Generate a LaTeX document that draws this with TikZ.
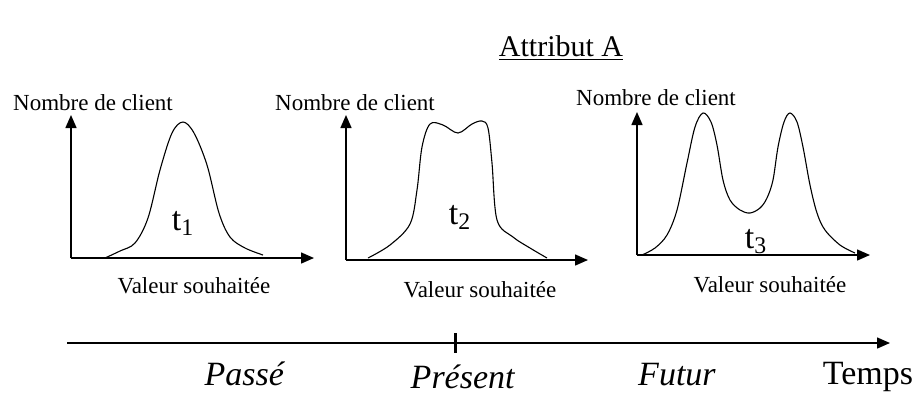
\documentclass[tikz,border=0pt]{standalone}
\usepackage{fontspec}
\setmainfont{Liberation Serif}
\usetikzlibrary{arrows.meta, positioning}

\tikzset{
  axe/.style={line width=0.75pt, -{Triangle[length=6.5pt,width=5.5pt]}},
  courbe/.style={line width=0.55pt},
  petit/.style={font=\fontsize{11.5}{13}\selectfont, inner sep=0pt, anchor=base},
  grand/.style={font=\fontsize{17}{20}\selectfont, inner sep=0pt, anchor=base},
}

\begin{document}
\begin{tikzpicture}[x=0.5pt, y=-0.5pt]
\useasboundingbox (0,0) rectangle (918,393);

\node (Titre) [grand, font=\fontsize{15}{18}\selectfont] at (561,56) {\underline{Attribut A}};

% premier graphe
\coordinate (O1) at (71,258);
\coordinate (Y1) at (71,115);
\coordinate (X1) at (314,258);
\draw[axe] (O1) -- (Y1);
\draw[axe] (O1) -- (X1);
\node (N1) [petit] at (93,110) {Nombre de client};
\node (V1) [petit] at (194,293) {Valeur souhaitée};
\draw[courbe] plot[smooth, tension=0.55] coordinates {(105,258) (120,251) (135,243) (148,218) (160,170) (172,133) (183,122) (194,133) (207,165) (219,213) (230,237) (245,248) (263,255)};
\node (T1) [grand] at (183,230) {t\textsubscript{1}};

% deuxieme graphe
\coordinate (O2) at (346,260);
\coordinate (Y2) at (346,115);
\coordinate (X2) at (588,260);
\draw[axe] (O2) -- (Y2);
\draw[axe] (O2) -- (X2);
\node (N2) [petit] at (355,110) {Nombre de client};
\node (V2) [petit] at (480,297) {Valeur souhaitée};
\draw[courbe] plot[smooth, tension=0.55] coordinates {(368,258) (390,245) (410,224) (417,190) (422,147) (430,124) (443,125) (458,133) (472,124) (482,121) (488,128) (492,163) (497,220) (513,237) (530,248) (547,258)};
\node (T2) [grand] at (460,224) {t\textsubscript{2}};

% troisieme graphe
\coordinate (O3) at (637,255);
\coordinate (Y3) at (637,112);
\coordinate (X3) at (870,255);
\draw[axe] (O3) -- (Y3);
\draw[axe] (O3) -- (X3);
\node (N3) [petit] at (656,105) {Nombre de client};
\node (V3) [petit] at (770,292) {Valeur souhaitée};
\draw[courbe] plot[smooth, tension=0.55] coordinates {(642,255) (655,248) (667,235) (677,210) (687,163) (695,127) (703,113) (711,122) (717,145) (723,180) (730,200) (740,210) (750,213) (760,208) (767,198) (773,180) (778,147) (784,122) (790,113) (797,122) (803,147) (810,185) (817,213) (825,230) (840,245) (855,253)};
\node (T3) [grand] at (756,248) {t\textsubscript{3}};

% axe du temps
\coordinate (Debut) at (67,343);
\coordinate (Fin) at (890,343);
\coordinate (Maintenant) at (455,343);
\draw[axe] (Debut) -- (Fin);
\draw[line width=1.5pt] ([yshift=5pt]Maintenant) -- ([yshift=-5pt]Maintenant);
\node (Passe) [grand] at (245,385) {\textit{Passé}};
\node (Present) [grand] at (463,388) {\textit{Présent}};
\node (Futur) [grand] at (677,385) {\textit{Futur}};
\node (Temps) [grand] at (868,384) {Temps};
\end{tikzpicture}
\end{document}
